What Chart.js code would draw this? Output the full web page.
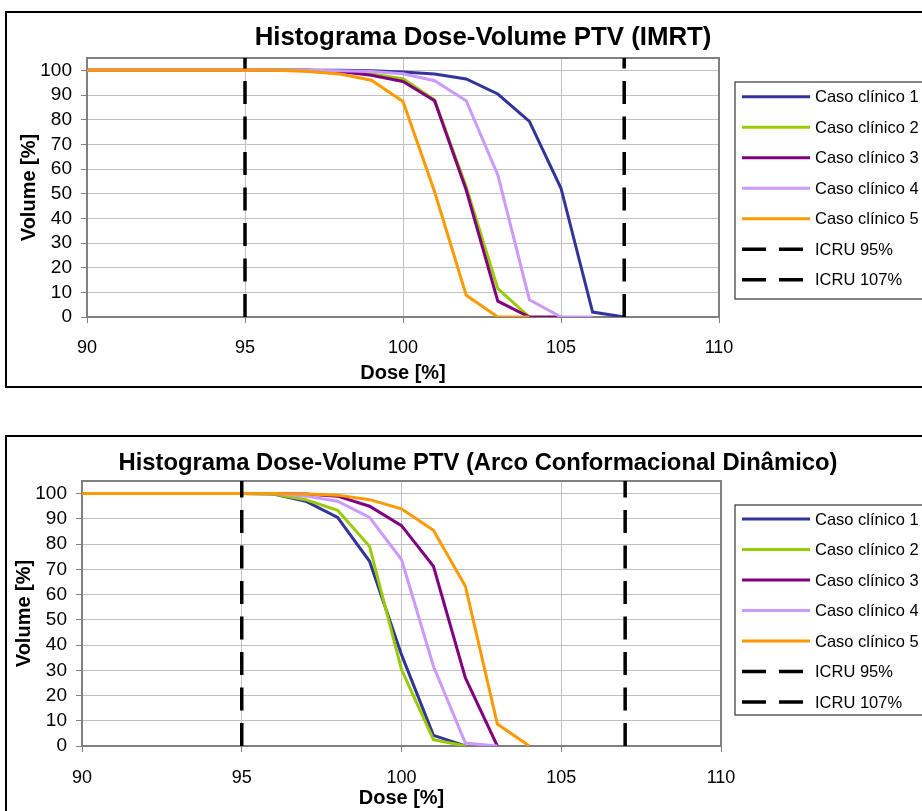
<!DOCTYPE html>
<html lang="pt">
<head>
<meta charset="utf-8">
<title>Histograma Dose-Volume PTV</title>
<script src="https://cdn.jsdelivr.net/npm/chart.js@4.4.1/dist/chart.umd.min.js"></script>
<style>
    html, body { margin: 0; padding: 0; background: #fff; overflow: hidden; }
    .grafico { position: absolute; left: 0; width: 960px; height: 400px; }
</style>
</head>
<body>
<div class="grafico" style="top:0"><canvas id="grafico1"></canvas></div>
<div class="grafico" style="top:424px"><canvas id="grafico2"></canvas></div>
<script>
// dose [%] no eixo x, cada série começa em 90
const doses = [90, 91, 92, 93, 94, 95, 96, 97, 98, 99, 100, 101, 102, 103, 104, 105, 106, 107];
const ticksDose = [90, 95, 100, 105, 110];
const ticksVolume = [0, 10, 20, 30, 40, 50, 60, 70, 80, 90, 100];

const rotulos = ['Caso clínico 1', 'Caso clínico 2', 'Caso clínico 3', 'Caso clínico 4', 'Caso clínico 5'];
const cores = ['#333399', '#99cc00', '#800080', '#cc99ff', '#ff9900'];

// IMRT - volume [%]
const imrtCaso1 = [100, 100, 100, 100, 100, 100, 100, 100, 100, 99.8, 99.3, 98.5, 96.5, 90.4, 79.3, 52.2, 2, 0];
const imrtCaso2 = [100, 100, 100, 100, 100, 100, 100, 100, 99.5, 98.5, 96.6, 88, 52.8, 11.5, 0];
const imrtCaso3 = [100, 100, 100, 100, 100, 100, 100, 100, 99.5, 98, 95.5, 87.7, 51.5, 6.4, 0, 0];
const imrtCaso4 = [100, 100, 100, 100, 100, 100, 100, 100, 99.8, 99.5, 98.6, 95.8, 87.7, 57.6, 7, 0, 0];
const imrtCaso5 = [100, 100, 100, 100, 100, 100, 100, 99.5, 98.5, 96, 87.4, 50.8, 8.8, 0, 0];

// Arco Conformacional Dinâmico - volume [%]
const arcoCaso1 = [100, 100, 100, 100, 100, 100, 99.8, 97, 90.6, 73.2, 36.2, 4.2, 0];
const arcoCaso2 = [100, 100, 100, 100, 100, 100, 99.8, 97.6, 93.4, 79.1, 30.3, 2.5, 0];
const arcoCaso3 = [100, 100, 100, 100, 100, 100, 100, 99.8, 99, 95, 87.3, 71.2, 27, 0];
const arcoCaso4 = [100, 100, 100, 100, 100, 100, 100, 99, 97, 90.6, 73.9, 31.6, 1.2, 0];
const arcoCaso5 = [100, 100, 100, 100, 100, 100, 100, 99.8, 99.4, 97.6, 94, 85.5, 63.3, 8.7, 0];

// limites ICRU
const icru95 = [95, 95];
const icru107 = [107, 107];
const icruVolume = [0, 105];

const fonte = '"Liberation Sans", Arial, sans-serif';

function serie(i, volumes) {
    return {
        label: rotulos[i],
        data: volumes.map((v, k) => ({ x: doses[k], y: v })),
        borderColor: cores[i],
        backgroundColor: cores[i],
        borderWidth: 3,
        pointRadius: 0,
        tension: 0,
        order: 6 - i
    };
}

function linhaIcru(label, xs, ordem) {
    return {
        label: label,
        data: xs.map((x, k) => ({ x: x, y: icruVolume[k] })),
        borderColor: '#000',
        backgroundColor: '#000',
        borderWidth: 3.5,
        borderDash: [23, 12.5],
        pointRadius: 0,
        order: ordem
    };
}

const moldura = {
    id: 'moldura',
    beforeDraw(chart, args, opts) {
        const ctx = chart.ctx;
        ctx.save();
        ctx.fillStyle = '#fff';
        ctx.fillRect(0, 0, chart.width, chart.height);
        ctx.strokeStyle = '#000';
        ctx.lineWidth = 2;
        ctx.strokeRect(6, 12, 960, opts.altura);
        ctx.fillStyle = '#000';
        ctx.font = 'bold ' + opts.tituloFonte + 'px ' + fonte;
        ctx.textAlign = 'center';
        ctx.textBaseline = 'alphabetic';
        ctx.fillText(opts.titulo, opts.tituloX, opts.tituloY);
        ctx.restore();
    },
    beforeDatasetsDraw(chart) {
        const a = chart.chartArea;
        const ctx = chart.ctx;
        ctx.save();
        ctx.strokeStyle = '#808080';
        ctx.lineWidth = 2;
        ctx.strokeRect(a.left, a.top, a.right - a.left, a.bottom - a.top);
        ctx.restore();
    },
    afterDraw(chart, args, opts) {
        const ctx = chart.ctx;
        const leg = opts.legenda;
        ctx.save();
        ctx.strokeStyle = '#333';
        ctx.lineWidth = 1.2;
        ctx.strokeRect(735, leg.y, 210, leg.h);
        ctx.font = '16.5px ' + fonte;
        ctx.textBaseline = 'middle';
        ctx.textAlign = 'left';
        chart.data.datasets.forEach(function (ds, i) {
            const y = leg.y0 + i * leg.passo;
            ctx.beginPath();
            if (ds.borderDash) {
                ctx.setLineDash([24, 13]);
                ctx.lineWidth = 3.5;
                ctx.moveTo(742, y);
                ctx.lineTo(803, y);
            } else {
                ctx.setLineDash([]);
                ctx.lineWidth = 3;
                ctx.moveTo(742, y);
                ctx.lineTo(810, y);
            }
            ctx.strokeStyle = ds.borderColor;
            ctx.stroke();
            ctx.setLineDash([]);
            ctx.fillStyle = '#000';
            ctx.fillText(ds.label, 815, y + 1);
        });
        ctx.restore();
    }
};

function criarGrafico(id, titulo, volumes, cfg) {
    const datasets = volumes.map((v, i) => serie(i, v));
    datasets.push(linhaIcru('ICRU 95%', icru95, 1));
    datasets.push(linhaIcru('ICRU 107%', icru107, 0));

    return new Chart(document.getElementById(id), {
        type: 'line',
        data: { datasets: datasets },
        plugins: [moldura],
        options: {
            responsive: true,
            maintainAspectRatio: false,
            animation: false,
            devicePixelRatio: 1,
            layout: { padding: cfg.padding },
            plugins: {
                legend: { display: false },
                title: { display: false },
                tooltip: { enabled: false },
                moldura: {
                    titulo: titulo,
                    tituloFonte: cfg.tituloFonte,
                    tituloX: cfg.tituloX,
                    tituloY: cfg.tituloY,
                    altura: cfg.altura,
                    legenda: cfg.legenda
                }
            },
            scales: {
                x: {
                    type: 'linear',
                    min: 90,
                    max: 110,
                    afterBuildTicks: function (scale) {
                        scale.ticks = ticksDose.map(v => ({ value: v }));
                    },
                    ticks: {
                        padding: cfg.xPadding,
                        color: '#000',
                        font: { family: fonte, size: 18 }
                    },
                    grid: { color: '#c0c0c0', tickColor: '#808080', tickLength: 6, lineWidth: 1 },
                    border: { color: '#808080', width: 2 },
                    title: {
                        display: true,
                        text: 'Dose [%]',
                        color: '#000',
                        padding: 0,
                        font: { family: fonte, size: 20, weight: 'bold' }
                    },
                    afterFit: function (scale) { scale.height = cfg.xAltura; }
                },
                y: {
                    min: 0,
                    max: 105,
                    afterBuildTicks: function (scale) {
                        scale.ticks = ticksVolume.map(v => ({ value: v }));
                    },
                    ticks: {
                        padding: 9,
                        color: '#000',
                        font: { family: fonte, size: 19 }
                    },
                    grid: { color: '#c0c0c0', tickColor: '#808080', tickLength: 6, lineWidth: 1 },
                    border: { color: '#808080', width: 2 },
                    title: {
                        display: true,
                        text: 'Volume [%]',
                        color: '#000',
                        padding: 0,
                        font: { family: fonte, size: 20, weight: 'bold' }
                    },
                    afterFit: function (scale) { scale.width = 70; }
                }
            }
        }
    });
}

criarGrafico('grafico1', 'Histograma Dose-Volume PTV (IMRT)',
    [imrtCaso1, imrtCaso2, imrtCaso3, imrtCaso4, imrtCaso5], {
        padding: { left: 17, top: 58, right: 241, bottom: 15 },
        xPadding: 14,
        xAltura: 68,
        tituloFonte: 25.8,
        tituloX: 483,
        tituloY: 45,
        altura: 375,
        legenda: { y: 82, h: 217, y0: 96.7, passo: 30.5 }
    });

criarGrafico('grafico2', 'Histograma Dose-Volume PTV (Arco Conformacional Dinâmico)',
    [arcoCaso1, arcoCaso2, arcoCaso3, arcoCaso4, arcoCaso5], {
        padding: { left: 12, top: 57, right: 239, bottom: 14 },
        xPadding: 15,
        xAltura: 64,
        tituloFonte: 23.8,
        tituloX: 478,
        tituloY: 45.5,
        altura: 390,
        legenda: { y: 81, h: 210, y0: 95, passo: 30.5 }
    });
</script>
</body>
</html>
